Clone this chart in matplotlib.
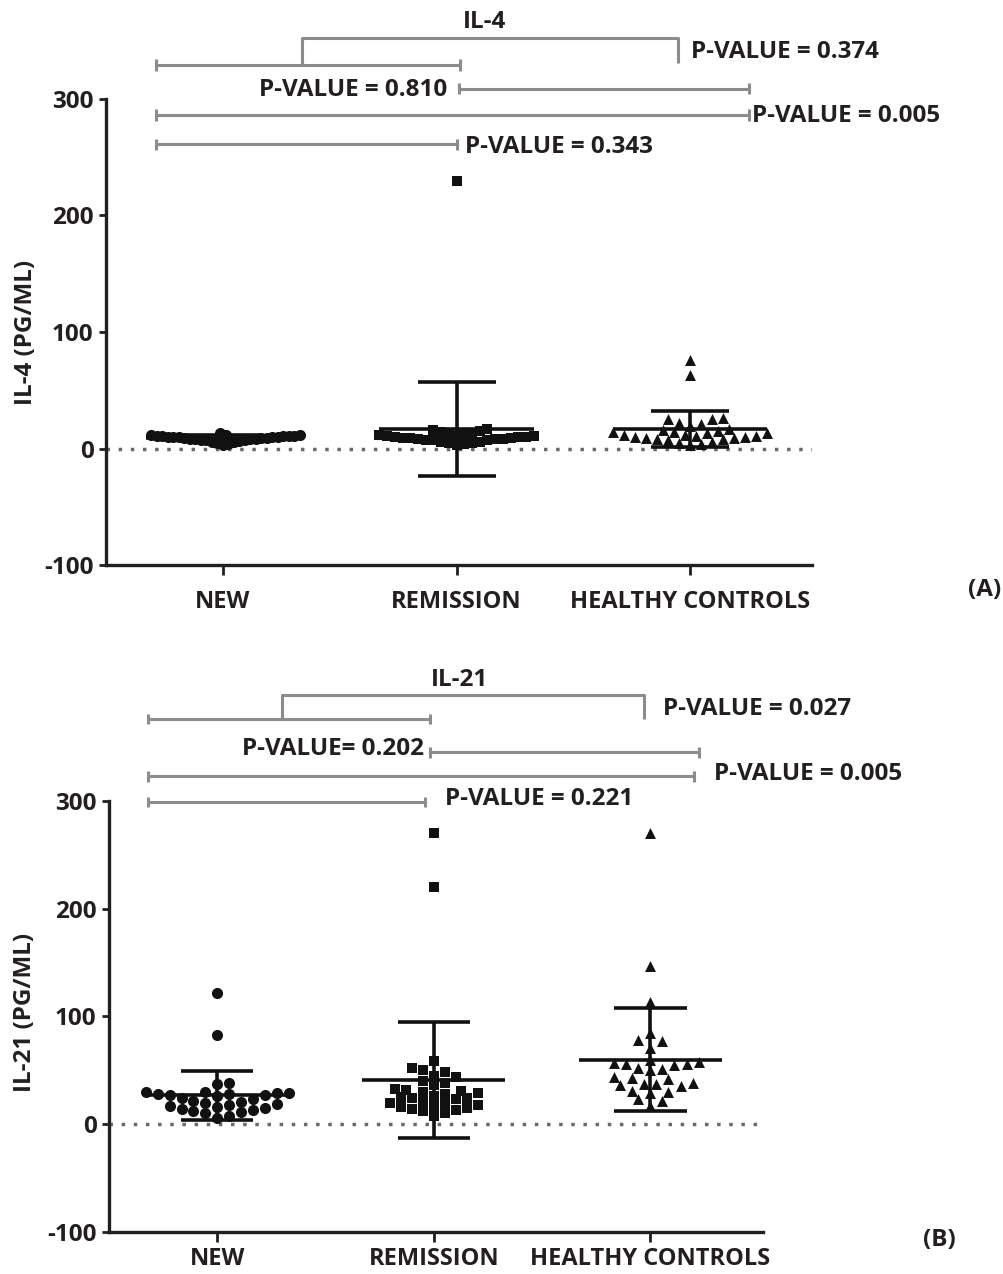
import numpy as np
import matplotlib
matplotlib.use("Agg")
import matplotlib.pyplot as plt
from matplotlib import font_manager


def pick_font():
    for name in ["Open Sans", "Lato", "Roboto", "Liberation Sans"]:
        for f in font_manager.fontManager.ttflist:
            if f.name == name and f.weight in (700, "bold"):
                return name
    return "DejaVu Sans"


FONT = pick_font()
plt.rcParams["font.family"] = [FONT, "DejaVu Sans"]
plt.rcParams["font.weight"] = "bold"

TEXT = "#231f20"
GREY = "#8c8c8c"
FS = 17.5      # p-values, titles, tick numbers
FS_CAT = 17    # category labels

categories = ["NEW", "REMISSION", "HEALTHY CONTROLS"]
yticks = [-100, 0, 100, 200, 300]

# IL-4 (pg/ml)
il4_new = [13, 12, 12, 11.5, 11, 11, 11, 10.5, 10.5, 10, 10, 10, 9.5, 9.5, 9,
           9, 9, 8.5, 8.5, 8, 8, 7.5, 7, 7, 6.5, 6, 5.5, 5, 4, 3]
il4_rem = [230, 17, 16, 15, 14, 13, 13, 12, 12, 11, 11, 11, 10, 10, 10, 9, 9,
           9, 8, 8, 8, 7, 7, 7, 6, 6, 5, 5, 4, 3]
il4_hc = [76, 63, 26, 25, 25, 22, 21, 19, 17, 16, 15, 14, 14, 13, 13, 12, 12,
          11, 11, 10, 10, 9, 9, 8, 8, 7, 6, 5, 4, 3]

# IL-21 (pg/ml)
il21_new = [122, 83, 38, 37, 30, 30, 29, 29, 28, 28, 27, 27, 26, 24, 23, 22,
            21, 20, 19, 18, 17, 16, 15, 14, 13, 12, 11, 10, 8, 6]
il21_rem = [270, 220, 59, 52, 50, 48, 45, 44, 40, 38, 36, 33, 32, 31, 30, 29,
            28, 26, 25, 24, 24, 23, 21, 20, 19, 18, 17, 16, 15, 14, 13, 12, 10, 8]
il21_hc = [270, 147, 113, 85, 78, 77, 71, 60, 58, 57, 56, 56, 55, 52, 51, 50,
           44, 43, 42, 38, 37, 37, 36, 35, 31, 30, 29, 23, 22, 17]

# p-value brackets: (x_left, x_right, y, label, label_x, label_y, ha)
il4_brackets = [
    (-0.286, 2.252, 286, "P-VALUE = 0.005", 2.265, 285, "left"),
    (-0.286, 1.0, 261, "P-VALUE = 0.343", 1.038, 259, "left"),
    (1.009, 2.252, 309, "P-VALUE = 0.810", 0.962, 308, "right"),
    (-0.286, 1.013, 329, None, 0, 0, "left"),
]
il4_top = (0.338, 1.949, 352, 329, 331, "P-VALUE = 0.374", 2.004, 340)

il21_brackets = [
    (-0.319, 2.199, 323, "P-VALUE = 0.005", 2.292, 325, "left"),
    (-0.319, 0.958, 299, "P-VALUE = 0.221", 1.051, 302, "left"),
    (0.981, 2.222, 345, "P-VALUE= 0.202", 0.954, 348, "right"),
    (-0.319, 0.981, 376, None, 0, 0, "left"),
]
il21_top = (0.301, 1.972, 398, 376, 376, "P-VALUE = 0.027", 2.056, 385)

markers = ["o", "s", "^"]
sizes = [64, 52, 62]
HALF_WIDTH = 0.33


def swarm(ax, x0, values, diam_px):
    # spread points sideways so markers of similar value do not overlap,
    # then squeeze the cloud to the width of the mean line
    trans = ax.transData
    vals = np.asarray(values, dtype=float)
    order = np.argsort(vals, kind="stable")
    x_px0 = trans.transform((x0, 0))[0]
    step = diam_px * 0.55
    placed = []
    out = np.zeros((len(vals), 2))
    for i in order:
        y_px = trans.transform((x0, vals[i]))[1]
        k = 0
        while True:
            cands = [0] if k == 0 else [k, -k]
            ok = None
            for c in cands:
                cx = x_px0 + c * step
                if all((cx - px) ** 2 + (y_px - py) ** 2 >= (0.92 * diam_px) ** 2
                       for px, py in placed):
                    ok = cx
                    break
            if ok is not None:
                placed.append((ok, y_px))
                out[i] = (ok, y_px)
                break
            k += 1
    limit = trans.transform((x0 + HALF_WIDTH, 0))[0] - x_px0
    dx = out[:, 0] - x_px0
    if np.abs(dx).max() > limit:
        out[:, 0] = x_px0 + dx * limit / np.abs(dx).max()
    return trans.inverted().transform(out)


def draw_panel(ax, groups, ylabel, title, brackets, top, xpad):
    ax.set_xlim(-0.5, 2.52)
    ax.set_ylim(-100, 300)
    for s in ["top", "right"]:
        ax.spines[s].set_visible(False)
    for s in ["left", "bottom"]:
        ax.spines[s].set_linewidth(2.4)
        ax.spines[s].set_color(TEXT)
    ax.axhline(0, color="#6a6a6a", lw=2.5, ls=(0, (1, 2.5)), zorder=1)

    for i, vals in enumerate(groups):
        diam = np.sqrt(sizes[i]) * 100 / 72
        pts = swarm(ax, i, vals, diam)
        ax.scatter(pts[:, 0], pts[:, 1], marker=markers[i], s=sizes[i],
                   color="#111111", linewidths=0, zorder=3)
        m = np.mean(vals)
        sd = np.std(vals, ddof=1)
        ax.hlines(m, i - HALF_WIDTH, i + HALF_WIDTH, color="#111111", lw=2.6,
                  zorder=4)
        ax.vlines(i, m - sd, m + sd, color="#111111", lw=2.6, zorder=4)
        ax.hlines([m - sd, m + sd], i - 0.167, i + 0.167, color="#111111",
                  lw=2.6, zorder=4)

    ax.set_xticks(range(3))
    ax.set_xticklabels(categories, fontsize=FS_CAT, color=TEXT,
                       fontweight="bold")
    ax.set_yticks(yticks)
    ax.set_yticklabels([str(t) for t in yticks], fontsize=FS, color=TEXT,
                       fontweight="bold")
    ax.tick_params(axis="x", length=7, width=2, pad=xpad, colors=TEXT)
    ax.tick_params(axis="y", length=5, width=2, pad=4, colors=TEXT)
    ax.set_ylabel(ylabel, fontsize=FS, color=TEXT, fontweight="bold")

    kw = dict(color=GREY, lw=2.2, clip_on=False, zorder=2,
              solid_capstyle="butt")
    for x1, x2, y, lab, lx, ly, ha in brackets:
        ax.plot([x1, x2], [y, y], **kw)
        ax.plot([x1, x1], [y - 5, y + 5], **kw)
        ax.plot([x2, x2], [y - 5, y + 5], **kw)
        if lab:
            ax.text(lx, ly, lab, ha=ha, va="center", fontsize=FS, color=TEXT,
                    fontweight="bold", clip_on=False)
    tx1, tx2, ty, yl, yr, lab, lx, ly = top
    ax.plot([tx1, tx1, tx2, tx2], [yl, ty, ty, yr], **kw)
    ax.text(lx, ly, lab, ha="left", va="center", fontsize=FS, color=TEXT,
            fontweight="bold", clip_on=False)
    ax.text(1.12, ty + 14, title, ha="center", va="center", fontsize=FS,
            color=TEXT, fontweight="bold", clip_on=False)


fig = plt.figure(figsize=(10.04, 12.74), dpi=100)
ax_a = fig.add_axes([0.1056, 0.5565, 0.703, 0.3658])
ax_b = fig.add_axes([0.1086, 0.033, 0.6514, 0.3383])

draw_panel(ax_a, [il4_new, il4_rem, il4_hc], "IL-4 (PG/ML)", "IL-4",
           il4_brackets, il4_top, 11)
draw_panel(ax_b, [il21_new, il21_rem, il21_hc], "IL-21 (PG/ML)", "IL-21",
           il21_brackets, il21_top, 4)
ax_a.yaxis.set_label_coords(-0.097, 0.5)
ax_b.yaxis.set_label_coords(-0.11, 0.51)

fig.text(0.981, 0.537, "(A)", ha="center", va="center", fontsize=FS,
         color=TEXT, fontweight="bold")
fig.text(0.936, 0.027, "(B)", ha="center", va="center", fontsize=FS,
         color=TEXT, fontweight="bold")

fig.savefig("out.png", dpi=100)
